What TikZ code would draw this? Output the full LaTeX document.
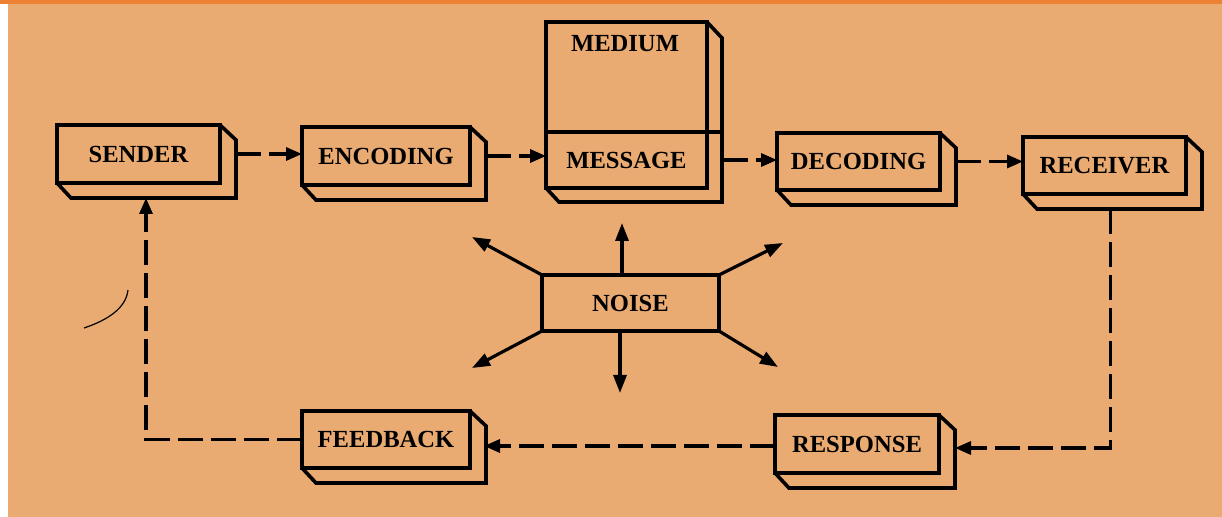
\documentclass[tikz,border=0pt]{standalone}
\usepackage{fontspec}
\setmainfont{Liberation Serif}
\usetikzlibrary{arrows.meta,calc}
\definecolor{bgtan}{RGB}{234,171,114}
\definecolor{topband}{RGB}{237,130,52}
\newcommand\boxback[1]{\draw[backline] (#1.north east) -- ++(16,15) -- ($(#1.south east)+(16,15)$) -- ($(#1.south west)+(14,15)$) -- (#1.south west);}
\begin{document}
\begin{tikzpicture}[x=0.5pt,y=-0.5pt,
  box/.style={draw, line width=2pt, rectangle, inner sep=0pt, outer sep=0pt,
    font=\fontsize{12.3}{14}\selectfont\bfseries},
  lbl/.style={font=\fontsize{12.3}{14}\selectfont\bfseries, inner sep=0pt},
  backline/.style={line width=1.8pt, line join=miter},
  flow/.style={line width=1.6pt, dash pattern=on 12.5pt off 4pt, -{Triangle[length=8pt,width=6.5pt]}},
  noisearrow/.style={line width=1.6pt, -{Triangle[length=9pt,width=6.5pt]}}]
\fill[white] (0,0) rectangle (1222,516);
\fill[bgtan] (8,0) rectangle (1222,517);
\fill[topband] (0,0) rectangle (1222,4);
\useasboundingbox (0,0) rectangle (1222,516);

% boxes
\node[box, minimum width=81.5pt, minimum height=29pt] (sender) at (138.5,154) {SENDER};
\node[box, minimum width=84pt, minimum height=29pt] (encoding) at (386,156) {ENCODING};
\node[box, minimum width=80.5pt, minimum height=55pt] (medium) at (626.5,77) {};
\node[lbl] (mediumtext) at (625,44) {MEDIUM};
\node[box, minimum width=80.5pt, minimum height=28pt] (message) at (626.5,160) {MESSAGE};
\node[box, minimum width=81.5pt, minimum height=28.5pt] (decoding) at (858.5,161.5) {DECODING};
\node[box, minimum width=81.5pt, minimum height=28.5pt] (receiver) at (1104.5,165.5) {RECEIVER};
\node[box, minimum width=88.5pt, minimum height=28pt] (noise) at (630.5,303) {NOISE};
\node[box, minimum width=82pt, minimum height=29pt] (response) at (857,444) {RESPONSE};
\node[box, minimum width=84pt, minimum height=28.5pt] (feedback) at (386,439.5) {FEEDBACK};

% back faces
\boxback{sender}
\boxback{encoding}
\boxback{decoding}
\boxback{receiver}
\boxback{response}
\boxback{feedback}
\draw[backline] (medium.north east) -- ++(15,16) -- ($(message.south east)+(15,14)$) -- ($(message.south west)+(13,14)$) -- (message.south west);
\draw[backline] (message.north east) -- ++(15,0);

% flow connectors
\draw[flow] ([xshift=8pt]sender.east) -- (sender.east -| encoding.west);
\draw[flow] ([xshift=8pt]encoding.east) -- (encoding.east -| message.west);
\draw[flow] ([xshift=8pt]message.east) -- (message.east -| decoding.west);
\draw[flow] ([xshift=8pt]decoding.east) -- (decoding.east -| receiver.west);
\draw[flow] ([xshift=3pt,yshift=-7.5pt]receiver.south) |- ([xshift=8pt,yshift=-2pt]response.east);
\draw[flow] ([yshift=-1pt]response.west) -- ([xshift=7pt,yshift=-1pt]feedback.east |- response.west);
\draw[flow] (feedback.west) -| ([xshift=3.75pt,yshift=-7.5pt]sender.south);

% noise arrows
\coordinate (nup) at (622,223);
\coordinate (ndown) at (620,393);
\coordinate (nul) at (472,237);
\coordinate (nur) at (783,243);
\coordinate (nll) at (472,368);
\coordinate (nlr) at (778,367);
\draw[noisearrow] (noise.north -| nup) -- (nup);
\draw[noisearrow] (noise.south -| ndown) -- (ndown);
\draw[noisearrow] (noise.north west) -- (nul);
\draw[noisearrow] (noise.north east) -- (nur);
\draw[noisearrow] (noise.south west) -- (nll);
\draw[noisearrow] (noise.south east) -- (nlr);

% stray pen stroke
\draw[line width=0.6pt] (84,328) .. controls (108,320) and (126,308) .. (128,290);
\end{tikzpicture}
\end{document}
